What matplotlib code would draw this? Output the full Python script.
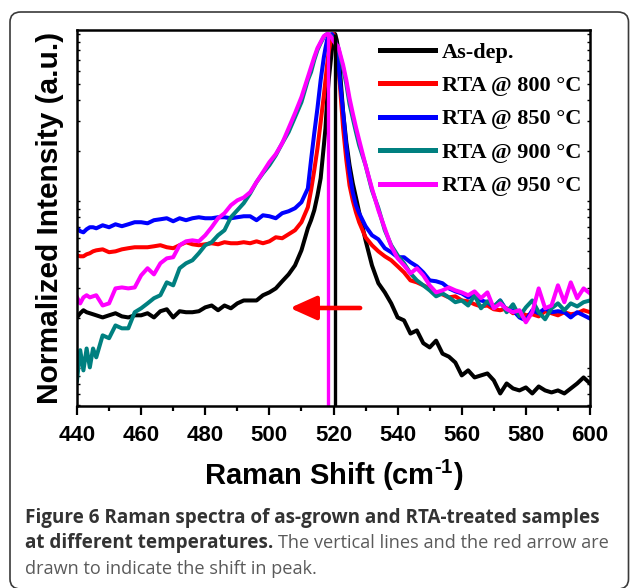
import matplotlib
matplotlib.use('Agg')
import matplotlib.pyplot as plt
from matplotlib.patches import FancyBboxPatch
from matplotlib.ticker import LogLocator, NullFormatter, MultipleLocator, FixedLocator

plt.rcParams['font.family'] = ['Liberation Sans', 'DejaVu Sans']
plt.rcParams['mathtext.fontset'] = 'custom'
plt.rcParams['mathtext.rm'] = 'Liberation Sans:bold'
plt.rcParams['mathtext.bf'] = 'Liberation Sans:bold'

# ---------------- data (Raman shift in cm^-1, normalized intensity) ----------------
shift = [440, 441, 442, 443, 444, 445, 446, 448, 450, 452, 454, 456, 458, 460, 462, 464,
         466, 468, 470, 472, 474, 476, 478, 480, 482, 484, 486, 488, 490, 492, 494, 496,
         498, 500, 502, 504, 506, 508, 510, 512,
         513, 514, 515, 516, 517, 517.5, 518, 518.5, 519, 519.5, 520, 520.5, 521, 521.5,
         522, 523, 524, 525, 526, 527, 528,
         530, 532, 534, 536, 538, 540, 542, 544, 546, 548, 550, 552, 554, 556, 558, 560,
         562, 564, 566, 568, 570, 572, 574, 576, 578, 580, 582, 584, 586, 588, 590, 592,
         594, 596, 598, 600]

as_dep = [0.0201, 0.0213, 0.0222, 0.0216, 0.0213, 0.0210, 0.0207, 0.0201, 0.0207, 0.0213,
          0.0204, 0.0201, 0.0207, 0.0207, 0.0213, 0.0201, 0.0219, 0.0225, 0.0201, 0.0219,
          0.0216, 0.0216, 0.0219, 0.0231, 0.0237, 0.0222, 0.0237, 0.0228, 0.0244, 0.0254,
          0.0254, 0.0254, 0.0273, 0.0284, 0.0300, 0.0331, 0.0364, 0.0412, 0.0507, 0.0687,
          0.0768, 0.0881, 0.108, 0.137, 0.216, 0.273, 0.402, 0.530, 0.652, 0.802, 0.946,
          1.0, 0.921, 0.802, 0.609, 0.341, 0.225, 0.164, 0.128, 0.105, 0.0857,
          0.0582, 0.0412, 0.0322, 0.0284, 0.0244, 0.0201, 0.0193, 0.0161, 0.0168, 0.0141,
          0.0133, 0.0146, 0.0122, 0.0117, 0.0108, 0.00904, 0.00969, 0.00879, 0.00904, 0.00929,
          0.00844, 0.00705, 0.00809, 0.00755, 0.00735, 0.00766, 0.00705, 0.00776, 0.00735, 0.00715,
          0.00735, 0.00705, 0.00755, 0.00809, 0.00879, 0.00809]

rta_800 = [0.0473, 0.0467, 0.0467, 0.0480, 0.0487, 0.0500, 0.0507, 0.0514, 0.0494, 0.0500,
           0.0514, 0.0522, 0.0529, 0.0529, 0.0529, 0.0536, 0.0544, 0.0529, 0.0522, 0.0544,
           0.0567, 0.0551, 0.0544, 0.0551, 0.0559, 0.0551, 0.0567, 0.0559, 0.0559, 0.0567,
           0.0559, 0.0574, 0.0559, 0.0574, 0.0607, 0.0599, 0.0633, 0.0669, 0.0747, 0.0918,
           0.116, 0.153, 0.207, 0.297, 0.431, 0.530, 0.652, 0.780, 0.883, 0.946, 1.0,
           0.921, 0.780, 0.634, 0.495, 0.273, 0.176, 0.124, 0.101, 0.0857, 0.0747,
           0.0607, 0.0544, 0.0500, 0.0467, 0.0442, 0.0407, 0.0374, 0.0335, 0.0326, 0.0313,
           0.0300, 0.0284, 0.0276, 0.0265, 0.0269, 0.0254, 0.0251, 0.0241, 0.0234, 0.0237,
           0.0225, 0.0222, 0.0228, 0.0213, 0.0219, 0.0207, 0.0210, 0.0204, 0.0219, 0.0213,
           0.0207, 0.0216, 0.0210, 0.0213, 0.0222, 0.0216]

rta_850 = [0.0687, 0.0660, 0.0650, 0.0678, 0.0697, 0.0697, 0.0687, 0.0716, 0.0697, 0.0726,
           0.0707, 0.0726, 0.0747, 0.0747, 0.0736, 0.0768, 0.0778, 0.0789, 0.0757, 0.0789,
           0.0768, 0.0789, 0.0800, 0.0789, 0.0789, 0.0800, 0.0800, 0.0789, 0.0800, 0.0811,
           0.0811, 0.0768, 0.0822, 0.0811, 0.0789, 0.0846, 0.0869, 0.0906, 0.0984, 0.119,
           0.176, 0.255, 0.360, 0.530, 0.728, 0.824, 0.921, 0.973, 0.99, 1.0, 0.973,
           0.921, 0.802, 0.670, 0.530, 0.341, 0.210, 0.149, 0.113, 0.0944, 0.0846,
           0.0707, 0.0624, 0.0590, 0.0522, 0.0494, 0.0461, 0.0461, 0.0430, 0.0407, 0.0374,
           0.0335, 0.0331, 0.0322, 0.0300, 0.0288, 0.0280, 0.0265, 0.0276, 0.0254, 0.0248,
           0.0231, 0.0254, 0.0222, 0.0222, 0.0201, 0.0193, 0.0222, 0.0213, 0.0228, 0.0216,
           0.0219, 0.0216, 0.0201, 0.0216, 0.0207, 0.0198]

rta_900 = [0.00844, 0.0128, 0.00969, 0.0131, 0.0101, 0.0131, 0.0116, 0.0157, 0.0151, 0.0180,
           0.0173, 0.0173, 0.0216, 0.0228, 0.0244, 0.0262, 0.0273, 0.0326, 0.0313, 0.0396,
           0.0424, 0.0442, 0.0487, 0.0544, 0.0567, 0.0624, 0.0669, 0.0800, 0.0881, 0.0971,
           0.111, 0.130, 0.147, 0.164, 0.188, 0.222, 0.259, 0.318, 0.391, 0.530,
           0.592, 0.699, 0.802, 0.883, 0.960, 0.986, 1.0, 0.995, 0.986, 0.960, 0.921,
           0.896, 0.859, 0.824, 0.748, 0.626, 0.502, 0.381, 0.314, 0.259, 0.216,
           0.164, 0.116, 0.0906, 0.0669, 0.0544, 0.0473, 0.0424, 0.0369, 0.0335, 0.0313,
           0.0292, 0.0269, 0.0280, 0.0265, 0.0248, 0.0254, 0.0237, 0.0273, 0.0228, 0.0251,
           0.0234, 0.0254, 0.0216, 0.0241, 0.0204, 0.0231, 0.0254, 0.0216, 0.0196, 0.0228,
           0.0244, 0.0222, 0.0244, 0.0234, 0.0248, 0.0254]

rta_950 = [0.0265, 0.0244, 0.0265, 0.0273, 0.0265, 0.0269, 0.0273, 0.0237, 0.0244, 0.0300,
           0.0304, 0.0300, 0.0304, 0.0359, 0.0396, 0.0364, 0.0424, 0.0454, 0.0461, 0.0544,
           0.0574, 0.0582, 0.0574, 0.0624, 0.0697, 0.0789, 0.0846, 0.0944, 0.101, 0.105,
           0.113, 0.130, 0.149, 0.171, 0.191, 0.222, 0.273, 0.336, 0.419, 0.552,
           0.634, 0.728, 0.824, 0.896, 0.973, 0.986, 1.0, 0.998, 0.973, 0.946, 0.908,
           0.883, 0.859, 0.836, 0.770, 0.652, 0.530, 0.413, 0.336, 0.277, 0.232,
           0.164, 0.119, 0.0881, 0.0687, 0.0536, 0.0454, 0.0412, 0.0369, 0.0396, 0.0359,
           0.0313, 0.0284, 0.0292, 0.0304, 0.0292, 0.0284, 0.0273, 0.0288, 0.0262, 0.0284,
           0.0228, 0.0244, 0.0225, 0.0216, 0.0222, 0.0188, 0.0216, 0.0300, 0.0228, 0.0237,
           0.0313, 0.0248, 0.0326, 0.0262, 0.0300, 0.0280]

series_labels = ['As-dep.', 'RTA @ 800 °C', 'RTA @ 850 °C', 'RTA @ 900 °C', 'RTA @ 950 °C']
series_colors = ['#000000', '#ff0000', '#0000ff', '#008080', '#ff00ff']

peak_as_dep = 520.6      # vertical black line
peak_950 = 518.2         # vertical magenta line
peak_top = 1.0
arrow_start = 528.3
arrow_end = 506.4
arrow_level = 0.0229

x_ticks = [440, 460, 480, 500, 520, 540, 560, 580, 600]
x_lim = (440, 600)
y_lim = (0.00593, 1.057)

# ---------------- figure ----------------
fig = plt.figure(figsize=(6.3, 5.88), dpi=100)

# rounded frame around figure + caption
frame = FancyBboxPatch((10 / 630, 1 - 589 / 588), 618.5 / 630, 577 / 588,
                       boxstyle='round,pad=0,rounding_size=0.017',
                       transform=fig.transFigure, fill=False,
                       edgecolor='#3a3a3a', linewidth=1.2, clip_on=False)
fig.patches.append(frame)

ax = fig.add_axes([77 / 630, 1 - 406 / 588, 513 / 630, 376 / 588])

data = [as_dep, rta_800, rta_850, rta_900, rta_950]
for vals, lab, col in zip(data, series_labels, series_colors):
    ax.plot(shift, vals, color=col, lw=2.9, label=lab, solid_joinstyle='round')

ax.vlines(peak_950, y_lim[0], peak_top, color='#ff00ff', lw=2.4)
ax.vlines(peak_as_dep, y_lim[0], peak_top, color='#000000', lw=2.4)

ax.annotate('', xy=(arrow_end, arrow_level), xytext=(arrow_start, arrow_level),
            arrowprops=dict(arrowstyle='-|>,head_length=0.8,head_width=0.36',
                            mutation_scale=20, lw=3.3, color='#ff0000',
                            shrinkA=0, shrinkB=0))

ax.set_yscale('log')
ax.set_xlim(*x_lim)
ax.set_ylim(*y_lim)

ax.xaxis.set_major_locator(FixedLocator(x_ticks))
ax.xaxis.set_minor_locator(MultipleLocator(10))
ax.yaxis.set_major_locator(LogLocator(base=10, numticks=10))
ax.yaxis.set_minor_locator(LogLocator(base=10, subs=[2, 3, 4, 5, 6, 7, 8, 9], numticks=30))
ax.yaxis.set_major_formatter(NullFormatter())
ax.yaxis.set_minor_formatter(NullFormatter())

for s in ax.spines.values():
    s.set_linewidth(1.8)
ax.tick_params(axis='x', which='major', direction='out', length=6.5, width=1.6,
               labelsize=16, pad=7, top=False)
ax.tick_params(axis='x', which='minor', direction='out', length=3.8, width=1.6, top=False)
ax.tick_params(axis='y', which='both', direction='in', length=2.5, width=1.0,
               left=True, right=True)
for lab in ax.get_xticklabels():
    lab.set_fontweight('bold')

ax.set_xlabel(r'Raman Shift (cm$^{\text{-1}}$)', fontsize=21, fontweight='bold', labelpad=9)
ax.set_ylabel('Normalized Intensity (a.u.)', fontsize=21.5, fontweight='bold', labelpad=6)

leg = ax.legend(loc='upper left', bbox_to_anchor=(0.5906, 0.968), frameon=False,
                prop={'family': 'Liberation Serif', 'weight': 'bold', 'size': 16},
                handlelength=2.48, handletextpad=0.32, labelspacing=0.58,
                borderpad=0, borderaxespad=0)
for ln in leg.get_lines():
    ln.set_linewidth(3.6)

# ---------------- caption ----------------
cap_font = 'Open Sans'
cap_bold_size = 13.6
cap_reg_size = 13.1
x0 = 25 / 630
fig.text(x0, 1 - 523 / 588, 'Figure 6 Raman spectra of as-grown and RTA-treated samples',
         family=cap_font, weight='bold', size=cap_bold_size, color='#333333', va='baseline')
t2 = fig.text(x0, 1 - 548 / 588, 'at different temperatures.', family=cap_font,
              weight='bold', size=cap_bold_size, color='#333333', va='baseline')
fig.canvas.draw()
bb = t2.get_window_extent()
fig.text(bb.x1 / 630 + 0.007, 1 - 548 / 588, 'The vertical lines and the red arrow are',
         family=cap_font, size=cap_reg_size, color='#5a5a5a', va='baseline')
fig.text(x0, 1 - 574 / 588, 'drawn to indicate the shift in peak.', family=cap_font,
         size=cap_reg_size, color='#5a5a5a', va='baseline')

fig.savefig('out.png', dpi=100)
